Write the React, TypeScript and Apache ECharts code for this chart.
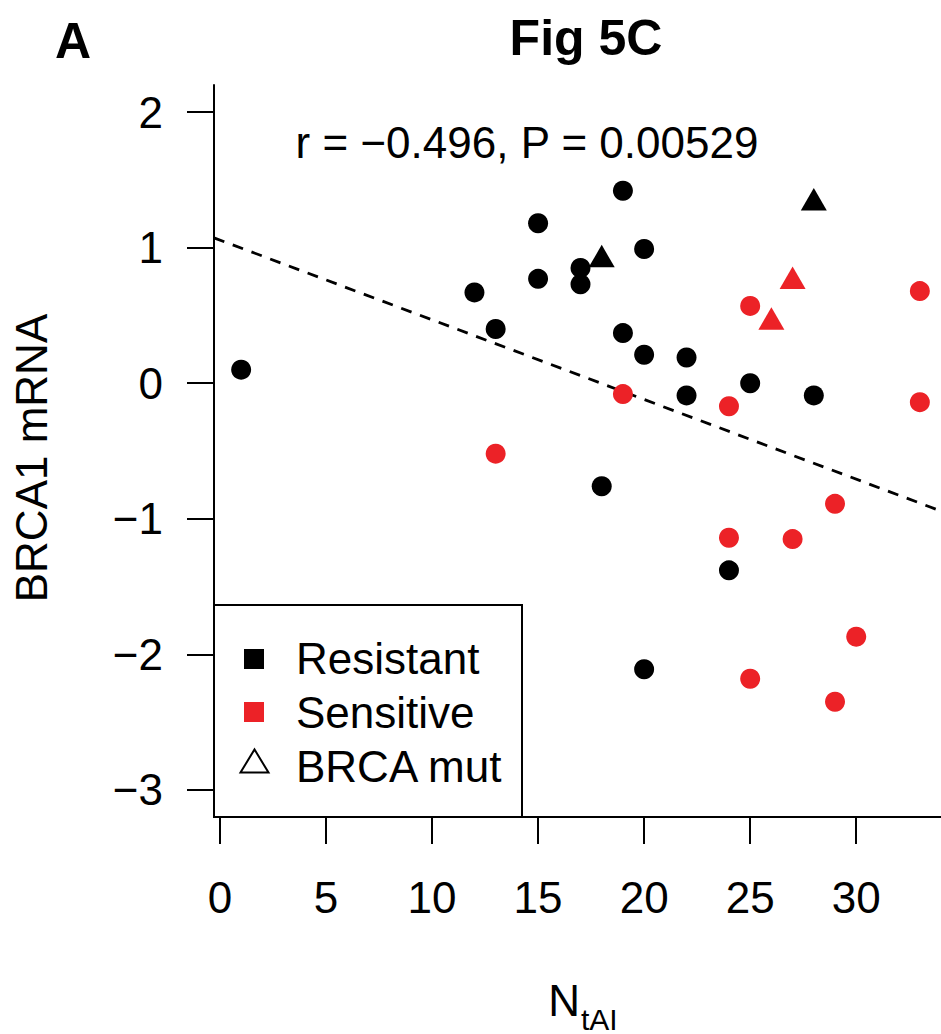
import React, { useEffect, useRef } from "react";
import * as echarts from "echarts";

// ---- data ----
const resistantX = [1, 12, 13, 15, 15, 17, 17, 19, 19, 20, 20, 22, 22, 25, 28, 18, 24, 20];
const resistantY = [0.1, 0.67, 0.4, 1.18, 0.77, 0.85, 0.73, 1.42, 0.37, 0.99, 0.21, 0.19, -0.09, 0.0, -0.09, -0.76, -1.38, -2.11];
const sensitiveX = [13, 19, 24, 25, 33, 33, 29, 24, 27, 30, 25, 29];
const sensitiveY = [-0.52, -0.08, -0.17, 0.57, 0.68, -0.14, -0.89, -1.14, -1.15, -1.87, -2.18, -2.35];
const mutX = [18, 28, 27, 26];
const mutY = [0.91, 1.33, 0.75, 0.45];
const mutGroup = ["Resistant", "Resistant", "Sensitive", "Sensitive"];
const fitIntercept = 1.056;
const fitSlope = -0.0588;
const xTicks = [0, 5, 10, 15, 20, 25, 30];
const yTicks = [-3, -2, -1, 0, 1, 2];
const xRange = [-0.28, 34.28];
const yRange = [-3.2, 2.2];
const legendNames = ["Resistant", "Sensitive", "BRCA mut"];

const RED = "#EC2227";
const BLACK = "#000000";
const FONT = "'Liberation Sans', Arial, Helvetica, sans-serif";

const fmt = (v: number) => (v < 0 ? "\u2212" + Math.abs(v) : String(v));

export default function App() {
  const ref = useRef<HTMLDivElement>(null);
  useEffect(() => {
    if (!ref.current) return;
    const chart = echarts.init(ref.current, null, { renderer: "svg" });
    const groupColor = (g: string) => (g === "Resistant" ? BLACK : RED);
    const triH = 22.5;
    const option: any = {
      animation: false,
      backgroundColor: "#ffffff",
      title: {
        text: "Fig 5C",
        left: 581,
        top: 8,
        textAlign: "center",
        textStyle: { fontFamily: FONT, fontSize: 50, fontWeight: "bold", color: BLACK },
      },
      grid: { left: 214, right: -6, top: 85, bottom: 217, outerBoundsMode: "none", containLabel: false },
      xAxis: {
        type: "value",
        min: xRange[0],
        max: xRange[1],
        splitLine: { show: false },
        axisLine: { show: true, onZero: false, lineStyle: { color: BLACK, width: 2 } },
        axisTick: { show: true, length: 27, inside: false, customValues: xTicks, lineStyle: { color: BLACK, width: 2 } },
        axisLabel: {
          show: true,
          customValues: xTicks,
          margin: 80,
          verticalAlign: "middle",
          fontFamily: FONT,
          fontSize: 44,
          color: BLACK,
          formatter: (v: number) => fmt(v),
        },
      },
      yAxis: {
        type: "value",
        min: yRange[0],
        max: yRange[1],
        splitLine: { show: false },
        axisLine: { show: true, onZero: false, lineStyle: { color: BLACK, width: 2 } },
        axisTick: { show: true, length: 27, inside: false, customValues: yTicks, lineStyle: { color: BLACK, width: 2 } },
        axisLabel: {
          show: true,
          customValues: yTicks,
          margin: 51,
          fontFamily: FONT,
          fontSize: 44,
          color: BLACK,
          formatter: (v: number) => fmt(v),
        },
      },
      series: [
        {
          name: "Fit",
          type: "line",
          data: xRange.map((x) => [x, fitIntercept + fitSlope * x]),
          symbol: "none",
          lineStyle: { color: BLACK, width: 2.8, type: [11, 9] },
          z: 1,
        },
        {
          name: legendNames[0],
          type: "scatter",
          data: resistantX.map((x, i) => [x, resistantY[i]]),
          symbol: "circle",
          symbolSize: 20,
          itemStyle: { color: BLACK, opacity: 1 },
          z: 2,
        },
        {
          name: legendNames[1],
          type: "scatter",
          data: sensitiveX.map((x, i) => [x, sensitiveY[i]]),
          symbol: "circle",
          symbolSize: 20,
          itemStyle: { color: RED, opacity: 1 },
          z: 2,
        },
        {
          name: legendNames[2],
          type: "scatter",
          data: mutX.map((x, i) => ({ value: [x, mutY[i]], itemStyle: { color: groupColor(mutGroup[i]), opacity: 1 } })),
          symbol: "triangle",
          symbolSize: [26, triH],
          symbolOffset: [0, -triH / 6],
          z: 3,
        },
      ],
      graphic: [
        {
          type: "text",
          left: 55,
          top: 16,
          style: { text: "A", fontFamily: FONT, fontSize: 50, fontWeight: "bold", fill: BLACK },
        },
        {
          type: "text",
          x: 527,
          y: 142,
          style: {
            text: "r = \u22120.496, P = 0.00529",
            fontFamily: FONT,
            fontSize: 44,
            fill: BLACK,
            textAlign: "center",
            textVerticalAlign: "middle",
          },
        },
        {
          type: "text",
          x: 31,
          y: 458,
          rotation: Math.PI / 2,
          style: {
            text: "BRCA1 mRNA",
            fontFamily: FONT,
            fontSize: 44,
            fill: BLACK,
            textAlign: "center",
            textVerticalAlign: "middle",
          },
        },
        {
          type: "text",
          x: 580,
          y: 1022,
          style: { text: "N", fontFamily: FONT, fontSize: 44, fill: BLACK, textAlign: "right", textVerticalAlign: "bottom" },
        },
        {
          type: "text",
          x: 581,
          y: 1034,
          style: { text: "tAI", fontFamily: FONT, fontSize: 30, fill: BLACK, textAlign: "left", textVerticalAlign: "bottom" },
        },
        // legend box
        {
          type: "group",
          z: 100,
          children: [
            {
              type: "rect",
              shape: { x: 214, y: 605, width: 308, height: 212 },
              style: { fill: "#ffffff", stroke: BLACK, lineWidth: 2 },
            },
            { type: "rect", shape: { x: 244, y: 649, width: 20, height: 20 }, style: { fill: BLACK } },
            { type: "rect", shape: { x: 244, y: 702, width: 20, height: 20 }, style: { fill: RED } },
            {
              type: "polygon",
              shape: { points: [[240.5, 772.5], [268.5, 772.5], [254.5, 749.5]] },
              style: { fill: "none", stroke: BLACK, lineWidth: 2 },
            },
            {
              type: "text",
              x: 296,
              y: 658,
              style: { text: legendNames[0], fontFamily: FONT, fontSize: 44, fill: BLACK, textVerticalAlign: "middle" },
            },
            {
              type: "text",
              x: 296,
              y: 712,
              style: { text: legendNames[1], fontFamily: FONT, fontSize: 44, fill: BLACK, textVerticalAlign: "middle" },
            },
            {
              type: "text",
              x: 296,
              y: 766,
              style: { text: legendNames[2], fontFamily: FONT, fontSize: 44, fill: BLACK, textVerticalAlign: "middle" },
            },
          ],
        },
      ],
    };
    chart.setOption(option);
    return () => chart.dispose();
  }, []);
  return (
    <div
      ref={ref}
      style={{ position: "fixed", left: 0, top: 0, width: 941, height: 1034, background: "#fff" }}
    />
  );
}
